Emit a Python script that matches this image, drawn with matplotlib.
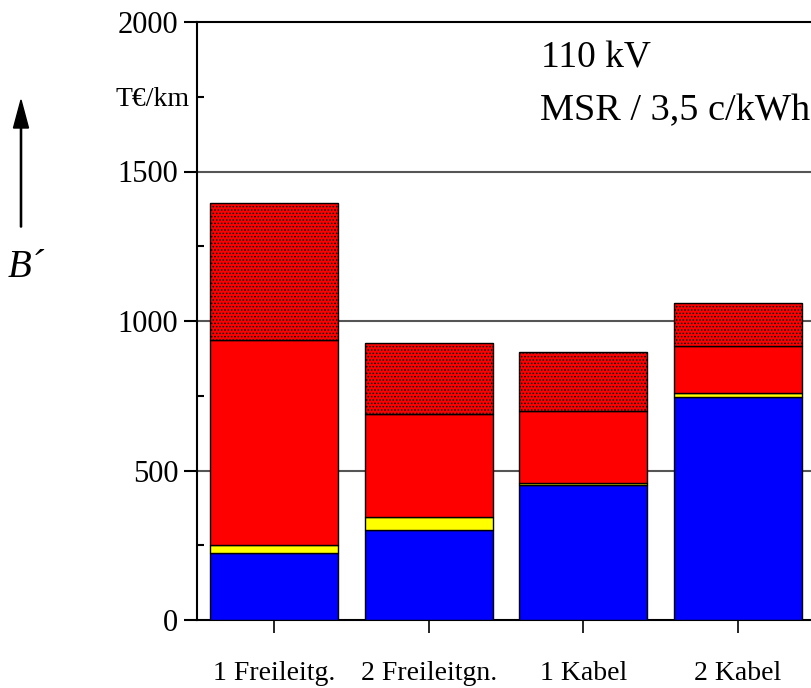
import matplotlib
matplotlib.use("Agg")
import matplotlib.pyplot as plt
from matplotlib.ticker import FixedLocator, FixedFormatter
import numpy as np

categories = ["1 Freileitg.", "2 Freileitgn.", "1 Kabel", "2 Kabel"]
blue_vals = [223, 301, 450, 747]
yellow_vals = [29, 43, 8, 11]
red_vals = [683, 345, 242, 158]
dotted_vals = [461, 236, 195, 145]

y_major = [0, 500, 1000, 1500, 2000]
y_minor = [250, 750, 1250, 1750]
y_minor_labels = ["", "", "", "T€/km"]

plt.rcParams['font.family'] = ['Liberation Serif', 'DejaVu Serif']
plt.rcParams['hatch.linewidth'] = 0.7

W, H = 812, 688
fig = plt.figure(figsize=(W / 100, H / 100), dpi=100)
left = 197 / W
bottom = 1 - 620 / H
top = 1 - 22 / H
right = 1.01
ax = fig.add_axes([left, bottom, right - left, top - bottom])

x = np.arange(len(categories))
width = 0.83
b1 = np.array(blue_vals)
b2 = b1 + np.array(yellow_vals)
b3 = b2 + np.array(red_vals)

ax.bar(x, blue_vals, width, color="#0000FF", edgecolor="black", linewidth=1.0, zorder=3)
ax.bar(x, yellow_vals, width, bottom=b1, color="#FFFF00", edgecolor="black", linewidth=1.0, zorder=3)
ax.bar(x, red_vals, width, bottom=b2, color="#FF0000", edgecolor="black", linewidth=1.0, zorder=3)
ax.bar(x, dotted_vals, width, bottom=b3, color="#FF0000", edgecolor="black", linewidth=1.0,
       hatch=".....", zorder=3)

px_per_unit = 154.5
axes_w_px = (right - left) * W
ax.set_xlim(-0.5, -0.5 + axes_w_px / px_per_unit)
ax.set_ylim(0, 2000)

for v in [500, 1000, 1500]:
    ax.axhline(v, color="#555555", linewidth=1.5, zorder=1)

ax.spines['right'].set_visible(False)
for s in ['left', 'top', 'bottom']:
    ax.spines[s].set_linewidth(1.5)
    ax.spines[s].set_color("black")

ax.yaxis.set_major_locator(FixedLocator(y_major))
ax.yaxis.set_minor_locator(FixedLocator(y_minor))
ax.yaxis.set_minor_formatter(FixedFormatter(y_minor_labels))
ax.tick_params(axis='y', which='major', direction='out', length=9.5, width=1.5,
               labelsize=22, pad=4)
ax.tick_params(axis='y', which='minor', direction='in', length=5, width=1.5,
               labelsize=20, pad=5)

ax.set_xticks(x)
ax.set_xticklabels(categories)
ax.tick_params(axis='x', which='major', direction='out', length=9.5, width=1.2,
               labelsize=20, pad=20)

fig.text(541 / W, 1 - 68 / H, "110 kV", fontsize=27, ha='left', va='baseline')
fig.text(540 / W, 1 - 120 / H, "MSR / 3,5 c/kWh", fontsize=27.5, ha='left', va='baseline')
fig.text(8 / W, 1 - 277 / H, "B´", fontsize=28, style='italic', ha='left', va='baseline')

fig.patches.append(matplotlib.patches.FancyArrow(
    21 / W, 1 - 227 / H, 0, (227 - 100) / H, width=1.2 / W,
    head_width=15 / W, head_length=28 / H, length_includes_head=True,
    color="black", transform=fig.transFigure, figure=fig))

fig.savefig("out.png", dpi=100)
